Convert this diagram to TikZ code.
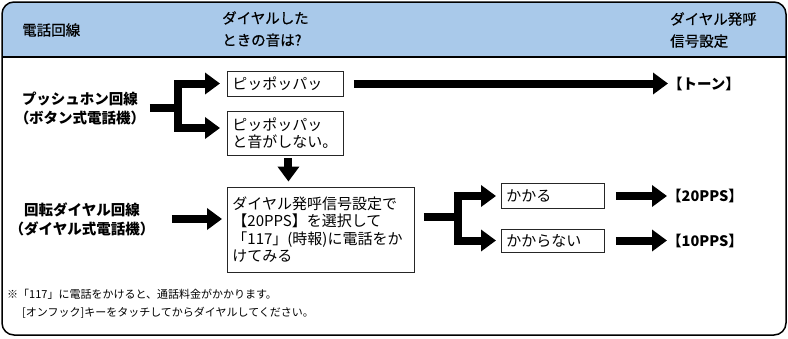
\documentclass[tikz,border=0pt]{standalone}
\usepackage{fontspec}
\setmainfont{Noto Sans CJK JP}
\newfontfamily\hdfont{Noto Sans CJK JP}[FakeBold=0.6]
\usetikzlibrary{arrows.meta}
\definecolor{hdrblue}{RGB}{169,201,234}

\begin{document}
\begin{tikzpicture}[x=1pt,y=-1pt,
    fat/.style={line width=8pt},
    fatarrow/.style={line width=8pt,-{Triangle[length=15pt,width=21pt]}},
    box/.style={draw=black!85,line width=0.9pt,anchor=west,align=left,inner sep=5pt,font=\fontsize{15}{17.3}\selectfont},
    lab/.style={font=\bfseries\fontsize{14.5}{19}\selectfont,align=center},
    res/.style={font=\bfseries\fontsize{14.5}{17}\selectfont,anchor=west,inner sep=0pt},
    head/.style={font=\hdfont\fontsize{14.5}{22}\selectfont,anchor=west,align=left,inner sep=0pt}]
    \useasboundingbox (0,0) rectangle (788,338);
    \fill[hdrblue] (2,57) {[rounded corners=12pt] -- (2,2) -- (786,2)} -- (786,57) -- cycle;
    \draw[line width=1.2pt] (2,57) -- (786,57);
    \draw[line width=1.5pt,rounded corners=12pt] (2,2) rectangle (786,335);
    \node[head] (hline) at (22,30) {電話回線};
    \node[head] (hsound) at (222,29) {ダイヤルした\\ときの音は?};
    \node[head] (hset) at (670,30) {ダイヤル発呼\\信号設定};
    % left column
    \node[lab] (push) at (80,108) {プッシュホン回線\\（ボタン式電話機）};
    \node[lab] (rot) at (82,219) {回転ダイヤル回線\\（ダイヤル式電話機）};
    % boxes
    \node[box,text width=106pt,minimum height=25pt] (pip) at (227,83.5) {ピッポッパッ};
    \node[box,text width=106pt,minimum height=44pt] (pipno) at (227,133) {ピッポッパッ\\と音がしない。};
    \node[box,text width=177pt,minimum height=85pt] (trial) at (227,229.5) {ダイヤル発呼信号設定で\\【20PPS】を選択して\\「117」(時報)に電話をか\\けてみる};
    \node[box,text width=93pt,minimum height=25pt] (ok) at (501,196) {かかる};
    \node[box,text width=93pt,minimum height=23pt] (ng) at (501,240.5) {かからない};
    % results
    \node[res] (tone) at (668,83.5) {【トーン】};
    \node[res] (pps20) at (667,196) {【20PPS】};
    \node[res] (pps10) at (667,240.5) {【10PPS】};
    \coordinate (fork1) at (178,108);
    \coordinate (fork2) at (458,217);
    % arrows
    \draw[fat,shorten <=1pt] (push.east) -- (fork1);
    \draw[fatarrow,shorten >=7pt] (fork1) |- (pip.west);
    \draw[fatarrow,shorten >=7pt] (fork1) |- ([yshift=5pt]pipno.west);
    \draw[fatarrow,shorten <=10pt] (pip.east) -- (tone.west);
    \draw[fatarrow,shorten <=3pt,shorten >=5pt] ([xshift=3pt]pipno.south) -- ([xshift=3pt]pipno.south |- trial.north);
    \draw[fatarrow,shorten <=14pt,shorten >=5pt] (rot.east) -- (rot.east -| trial.west);
    \draw[fat,shorten <=9pt] (trial.east |- fork2) -- (fork2);
    \draw[fatarrow,shorten >=5pt] (fork2) |- (ok.west);
    \draw[fatarrow,shorten >=5pt] (fork2) |- (ng.west);
    \draw[fatarrow,shorten <=11pt] (ok.east) -- (pps20.west);
    \draw[fatarrow,shorten <=11pt] (ng.east) -- (pps10.west);
    % note
    \node[anchor=west,align=left,inner sep=0pt,font=\fontsize{11}{18}\selectfont] (note) at (7,304) {※「117」に電話をかけると、通話料金がかかります。\\\hspace{15pt}[オンフック]キーをタッチしてからダイヤルしてください。};
\end{tikzpicture}
\end{document}
